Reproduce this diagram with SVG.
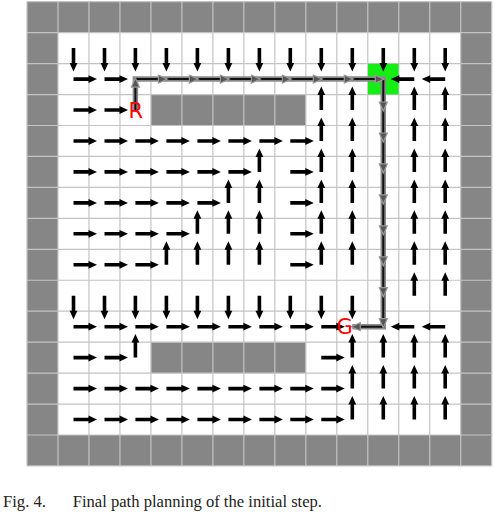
<svg xmlns="http://www.w3.org/2000/svg" xmlns:xlink="http://www.w3.org/1999/xlink" width="495" height="513" viewBox="0 0 495 513">
<style>
.wall{fill:#868686}
.grid{fill:none;stroke:#c4c4c4;stroke-width:1.2}
.q{fill:#000}
.pathOuter{fill:none;stroke:#8a8a8a;stroke-width:5.5;stroke-linejoin:miter}
.pathInner{fill:none;stroke:#111;stroke-width:2}
.ph{fill:#555;stroke:#999;stroke-width:1.2;stroke-linejoin:miter}
.lbl{font-family:"DejaVu Sans",sans-serif;font-size:21px;fill:#ff0000}
.cap{font-family:"Liberation Serif",serif;font-size:16.6px;fill:#222}
</style>
<defs>
<path id="R" d="M0,-1.8H15V-3.9L23.5,0L15,3.9V1.8H0Z"/>
<path id="L" d="M0,-1.8H-15V-3.9L-23.5,0L-15,3.9V1.8H0Z"/>
<path id="D" d="M-1.8,0V15H-3.9L0,23.5L3.9,15H1.8V0Z"/>
<path id="U" d="M-1.8,0V-15H-3.9L0,-23.5L3.9,-15H1.8V0Z"/>
<path id="pR" d="M1,0L-8,-4L-8,4Z"/>
<path id="pL" d="M-1,0L8,-4L8,4Z"/>
<path id="pD" d="M0,1L-4,-8L4,-8Z"/>
<path id="pU" d="M0,-1L-4,8L4,8Z"/>
</defs>
<rect width="495" height="513" fill="#fff"/>
<g id="map">
<path id="walls" class="wall" fill-rule="evenodd" d="M27,1.7H491.7V465.95H27Z M57.98,32.65V435H460.72V32.65Z"/>
<rect id="obstacle-top" class="wall" x="150.92" y="94.55" width="154.9" height="30.95"/>
<rect id="obstacle-bottom" class="wall" x="150.92" y="342.15" width="154.9" height="30.95"/>
<path id="gridlines" class="grid" d="M27,1.7V466M57.98,1.7V466M88.96,1.7V466M119.94,1.7V466M150.92,1.7V466M181.9,1.7V466M212.88,1.7V466M243.86,1.7V466M274.84,1.7V466M305.82,1.7V466M336.8,1.7V466M367.78,1.7V466M398.76,1.7V466M429.74,1.7V466M460.72,1.7V466M491.7,1.7V466M27,1.7H491.7M27,32.65H491.7M27,63.6H491.7M27,94.55H491.7M27,125.5H491.7M27,156.45H491.7M27,187.4H491.7M27,218.35H491.7M27,249.3H491.7M27,280.25H491.7M27,311.2H491.7M27,342.15H491.7M27,373.1H491.7M27,404.05H491.7M27,435H491.7M27,465.95H491.7"/>
<rect id="goal-cell" x="368" y="63.8" width="30.6" height="30.6" fill="#14ee14"/>
</g>
<g id="field" class="q">
<use href="#D" x="73.5" y="48.1"/><use href="#D" x="104.5" y="48.1"/><use href="#D" x="135.4" y="48.1"/><use href="#D" x="166.4" y="48.1"/><use href="#D" x="197.4" y="48.1"/><use href="#D" x="228.4" y="48.1"/><use href="#D" x="259.4" y="48.1"/><use href="#D" x="290.3" y="48.1"/><use href="#D" x="321.3" y="48.1"/><use href="#D" x="352.3" y="48.1"/><use href="#D" x="383.3" y="48.1"/><use href="#D" x="414.3" y="48.1"/><use href="#D" x="445.2" y="48.1"/>
<use href="#R" x="73.5" y="79.1"/><use href="#R" x="104.5" y="79.1"/><use href="#L" x="414.3" y="79.1"/><use href="#L" x="445.2" y="79.1"/>
<use href="#R" x="73.5" y="110"/><use href="#R" x="104.5" y="110"/><use href="#U" x="321.3" y="110"/><use href="#U" x="352.3" y="110"/><use href="#U" x="414.3" y="110"/><use href="#U" x="445.2" y="110"/>
<use href="#R" x="73.5" y="141"/><use href="#R" x="104.5" y="141"/><use href="#R" x="135.4" y="141"/><use href="#R" x="166.4" y="141"/><use href="#R" x="197.4" y="141"/><use href="#R" x="228.4" y="141"/><use href="#R" x="259.4" y="141"/><use href="#R" x="290.3" y="141"/><use href="#U" x="321.3" y="141"/><use href="#U" x="352.3" y="141"/><use href="#U" x="414.3" y="141"/><use href="#U" x="445.2" y="141"/>
<use href="#R" x="73.5" y="171.9"/><use href="#R" x="104.5" y="171.9"/><use href="#R" x="135.4" y="171.9"/><use href="#R" x="166.4" y="171.9"/><use href="#R" x="197.4" y="171.9"/><use href="#R" x="228.4" y="171.9"/><use href="#U" x="259.4" y="171.9"/><use href="#R" x="290.3" y="171.9"/><use href="#U" x="321.3" y="171.9"/><use href="#U" x="352.3" y="171.9"/><use href="#U" x="414.3" y="171.9"/><use href="#U" x="445.2" y="171.9"/>
<use href="#R" x="73.5" y="202.9"/><use href="#R" x="104.5" y="202.9"/><use href="#R" x="135.4" y="202.9"/><use href="#R" x="166.4" y="202.9"/><use href="#R" x="197.4" y="202.9"/><use href="#U" x="228.4" y="202.9"/><use href="#U" x="259.4" y="202.9"/><use href="#R" x="290.3" y="202.9"/><use href="#U" x="321.3" y="202.9"/><use href="#U" x="352.3" y="202.9"/><use href="#U" x="414.3" y="202.9"/><use href="#U" x="445.2" y="202.9"/>
<use href="#R" x="73.5" y="233.8"/><use href="#R" x="104.5" y="233.8"/><use href="#R" x="135.4" y="233.8"/><use href="#R" x="166.4" y="233.8"/><use href="#U" x="197.4" y="233.8"/><use href="#U" x="228.4" y="233.8"/><use href="#U" x="259.4" y="233.8"/><use href="#R" x="290.3" y="233.8"/><use href="#U" x="321.3" y="233.8"/><use href="#U" x="352.3" y="233.8"/><use href="#U" x="414.3" y="233.8"/><use href="#U" x="445.2" y="233.8"/>
<use href="#R" x="73.5" y="264.8"/><use href="#R" x="104.5" y="264.8"/><use href="#R" x="135.4" y="264.8"/><use href="#U" x="166.4" y="264.8"/><use href="#U" x="197.4" y="264.8"/><use href="#U" x="228.4" y="264.8"/><use href="#U" x="259.4" y="264.8"/><use href="#R" x="290.3" y="264.8"/><use href="#U" x="321.3" y="264.8"/><use href="#U" x="352.3" y="264.8"/><use href="#U" x="414.3" y="264.8"/><use href="#U" x="445.2" y="264.8"/>
<use href="#D" x="73.5" y="295.7"/><use href="#D" x="104.5" y="295.7"/><use href="#D" x="135.4" y="295.7"/><use href="#D" x="166.4" y="295.7"/><use href="#D" x="197.4" y="295.7"/><use href="#D" x="228.4" y="295.7"/><use href="#D" x="259.4" y="295.7"/><use href="#D" x="290.3" y="295.7"/><use href="#D" x="321.3" y="295.7"/><use href="#D" x="352.3" y="295.7"/><use href="#U" x="414.3" y="295.7"/><use href="#U" x="445.2" y="295.7"/>
<use href="#R" x="73.5" y="326.7"/><use href="#R" x="104.5" y="326.7"/><use href="#R" x="135.4" y="326.7"/><use href="#R" x="166.4" y="326.7"/><use href="#R" x="197.4" y="326.7"/><use href="#R" x="228.4" y="326.7"/><use href="#R" x="259.4" y="326.7"/><use href="#R" x="290.3" y="326.7"/><use href="#R" x="321.3" y="326.7"/><use href="#L" x="414.3" y="326.7"/><use href="#L" x="445.2" y="326.7"/>
<use href="#R" x="73.5" y="357.6"/><use href="#R" x="104.5" y="357.6"/><use href="#U" x="135.4" y="357.6"/><use href="#R" x="321.3" y="357.6"/><use href="#U" x="352.3" y="357.6"/><use href="#U" x="383.3" y="357.6"/><use href="#U" x="414.3" y="357.6"/><use href="#U" x="445.2" y="357.6"/>
<use href="#R" x="73.5" y="388.6"/><use href="#R" x="104.5" y="388.6"/><use href="#R" x="135.4" y="388.6"/><use href="#R" x="166.4" y="388.6"/><use href="#R" x="197.4" y="388.6"/><use href="#R" x="228.4" y="388.6"/><use href="#R" x="259.4" y="388.6"/><use href="#R" x="290.3" y="388.6"/><use href="#R" x="321.3" y="388.6"/><use href="#U" x="352.3" y="388.6"/><use href="#U" x="383.3" y="388.6"/><use href="#U" x="414.3" y="388.6"/><use href="#U" x="445.2" y="388.6"/>
<use href="#R" x="73.5" y="419.5"/><use href="#R" x="104.5" y="419.5"/><use href="#R" x="135.4" y="419.5"/><use href="#R" x="166.4" y="419.5"/><use href="#R" x="197.4" y="419.5"/><use href="#R" x="228.4" y="419.5"/><use href="#R" x="259.4" y="419.5"/><use href="#R" x="290.3" y="419.5"/><use href="#R" x="321.3" y="419.5"/><use href="#U" x="352.3" y="419.5"/><use href="#U" x="383.3" y="419.5"/><use href="#U" x="414.3" y="419.5"/><use href="#U" x="445.2" y="419.5"/>
</g>
<g id="connectors">
<polyline class="pathOuter" points="135.4,110 135.4,79.1 383.3,79.1 383.3,326.7 352.3,326.7"/>
<polyline class="pathInner" points="135.4,110 135.4,79.1 383.3,79.1 383.3,326.7 352.3,326.7"/>
<g class="ph">
<use href="#pU" x="135.4" y="79.1"/>
<use href="#pR" x="166.4" y="79.1"/><use href="#pR" x="197.4" y="79.1"/><use href="#pR" x="228.4" y="79.1"/><use href="#pR" x="259.4" y="79.1"/><use href="#pR" x="290.3" y="79.1"/><use href="#pR" x="321.3" y="79.1"/><use href="#pR" x="352.3" y="79.1"/><use href="#pR" x="383.3" y="79.1"/>
<use href="#pD" x="383.3" y="110"/><use href="#pD" x="383.3" y="141"/><use href="#pD" x="383.3" y="171.9"/><use href="#pD" x="383.3" y="202.9"/><use href="#pD" x="383.3" y="233.8"/><use href="#pD" x="383.3" y="264.8"/><use href="#pD" x="383.3" y="295.7"/><use href="#pD" x="383.3" y="326.7"/>
<use href="#pL" x="352.3" y="326.7"/>
</g>
</g>
<g id="start-node"><text class="lbl" x="128.5" y="118.3">R</text></g>
<g id="goal-node"><text class="lbl" x="336.5" y="333.8">G</text></g>
<g id="caption" class="cap"><text x="3" y="507">Fig. 4.</text><text x="72.7" y="507">Final path planning of the initial step.</text></g>
</svg>
